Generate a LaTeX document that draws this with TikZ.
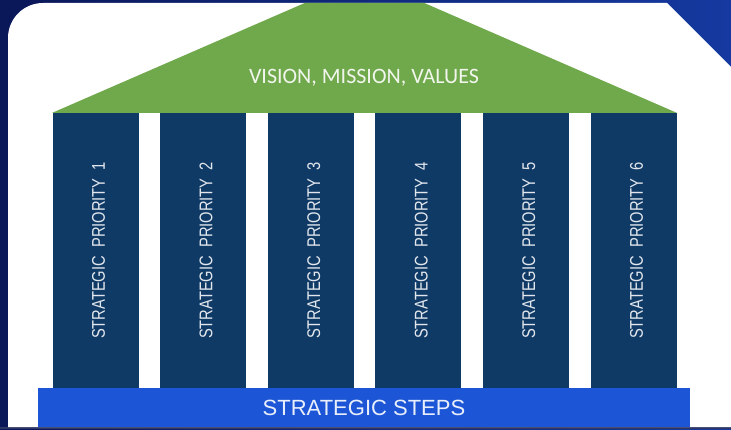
\documentclass[tikz,border=0pt]{standalone}
\usepackage{fontspec}
\setmainfont{Liberation Sans}
\newfontfamily\rooffont{Carlito}
\usepackage{tikz}
\usetikzlibrary{positioning}
\usepackage{xcolor}
\definecolor{bgdark}{HTML}{0A1758}
\definecolor{bglight}{HTML}{1539A0}
\definecolor{roofgreen}{HTML}{70A84C}
\definecolor{pillarblue}{HTML}{103A66}
\definecolor{stepblue}{HTML}{1C56D6}
\newcommand{\prio}[1]{\hspace*{6pt}\rotatebox{90}{\scalebox{1}[1.25]{STRATEGIC\ \ PRIORITY\ \ #1}}}

\begin{document}
\begin{tikzpicture}[x=1pt, y=1pt,
        pillar/.style = {fill=pillarblue, text=white!88!pillarblue, inner sep=0pt,
            minimum width=86pt, minimum height=275pt, node distance={21.2pt},
            font=\fontsize{14.7}{16}\selectfont},
        stepbar/.style = {fill=stepblue, text=white!90!stepblue, inner sep=0pt,
            minimum width=652pt, minimum height=39pt, font=\fontsize{22}{26}\selectfont},
        roofnode/.style = {text=white!90!roofgreen, font=\rooffont\fontsize{22}{26}\selectfont}
        ]
        \useasboundingbox (0,0) rectangle (731,429);
        \shade[left color=bgdark, right color=bglight] (0,0) rectangle (731,429);
        \fill[bgdark!70!gray] (0,0) rectangle (731,2);
        \fill[white] (8,2) -- (8,391) arc[start angle=180, end angle=90, radius=35pt]
            -- (667,426) -- (731,362) -- (731,2) -- cycle;
        % pillars
        \node[pillar] (p1) at (95.5,178.5) {\prio{1}};
        \node[pillar] (p2) [right=of p1] {\prio{2}};
        \node[pillar] (p3) [right=of p2] {\prio{3}};
        \node[pillar] (p4) [right=of p3] {\prio{4}};
        \node[pillar] (p5) [right=of p4] {\prio{5}};
        \node[pillar] (p6) [right=of p5] {\prio{6}};
        % roof
        \coordinate (apex) at (364.5,452);
        \begin{scope}
            \clip (8,2) -- (8,391) arc[start angle=180, end angle=90, radius=35pt]
                -- (667,426) -- (731,362) -- (731,2) -- cycle;
            \fill[roofgreen] (p1.north west) -- (apex) -- (p6.north east) -- cycle;
        \end{scope}
        \node[roofnode] (roof) at (364,351) {VISION, MISSION, VALUES};
        % base
        \node[stepbar] (steps) at (364,21.5) {STRATEGIC STEPS};
        \end{tikzpicture}
\end{document}
